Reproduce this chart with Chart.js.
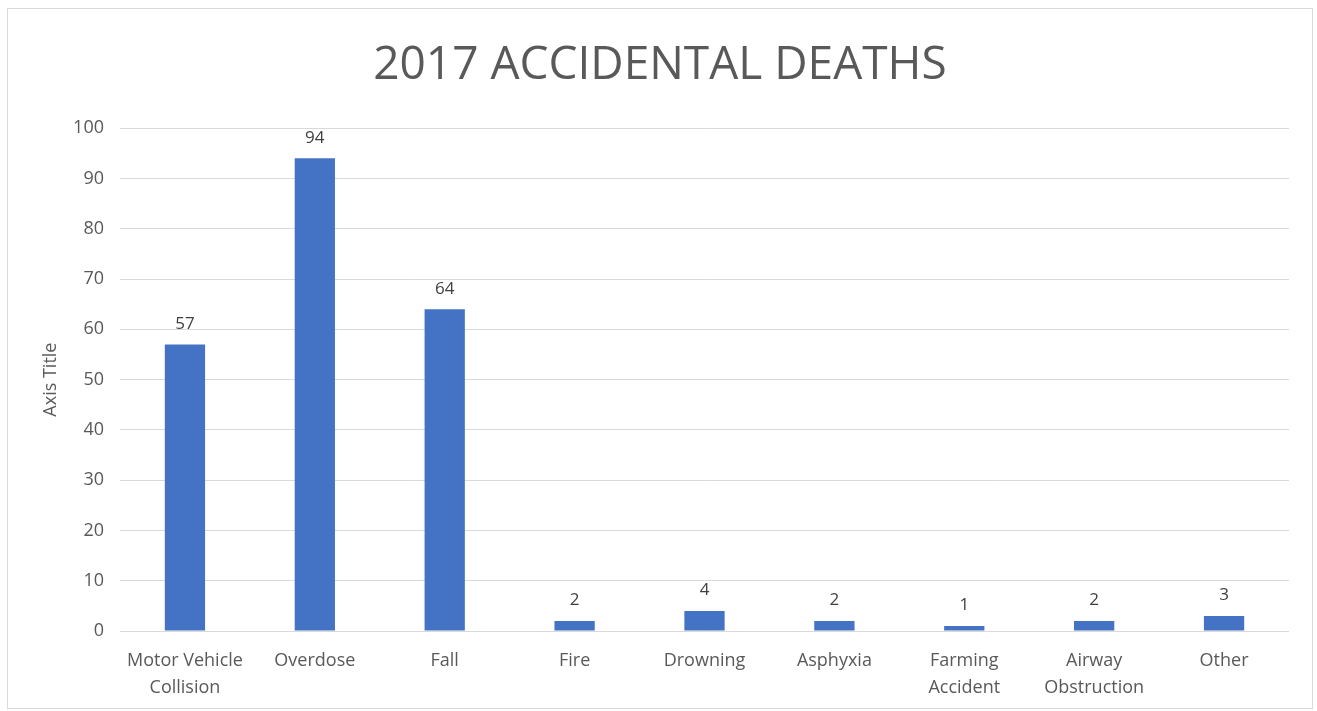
<!DOCTYPE html>
<html>
<head>
<meta charset="utf-8">
<script src="https://cdn.jsdelivr.net/npm/chart.js@4/dist/chart.umd.min.js"></script>
<style>
    body { margin: 0; background: #ffffff; }
    #frame {
        position: absolute;
        left: 7px;
        top: 8px;
        width: 1304px;
        height: 699px;
        border: 1px solid #d9d9d9;
    }
</style>
</head>
<body>
<div id="frame"><canvas id="accidentChart"></canvas></div>
<script>
const categories = [
    ["Motor Vehicle", "Collision"],
    "Overdose",
    "Fall",
    "Fire",
    "Drowning",
    "Asphyxia",
    ["Farming", "Accident"],
    ["Airway", "Obstruction"],
    "Other"
];
const deaths = [57, 94, 64, 2, 4, 2, 1, 2, 3];
const yTicks = [0, 10, 20, 30, 40, 50, 60, 70, 80, 90, 100];

const textColor = "#595959";
const fontFamily = "'Open Sans', sans-serif";

// draws the value above each bar
const valueLabels = {
    id: "valueLabels",
    afterDatasetsDraw(chart) {
        const ctx = chart.ctx;
        const meta = chart.getDatasetMeta(0);
        ctx.save();
        ctx.font = "17px " + fontFamily;
        ctx.fillStyle = "#404040";
        ctx.textAlign = "center";
        ctx.textBaseline = "bottom";
        meta.data.forEach((bar, i) => {
            ctx.fillText(String(deaths[i]), bar.x, bar.y - 12);
        });
        ctx.restore();
    }
};

const accidentChart = new Chart(document.getElementById("accidentChart"), {
    type: "bar",
    data: {
        labels: categories,
        datasets: [{
            data: deaths,
            backgroundColor: "#4472C4",
            borderWidth: 0,
            barPercentage: 0.31,
            categoryPercentage: 1
        }]
    },
    options: {
        responsive: true,
        maintainAspectRatio: false,
        animation: false,
        layout: {
            padding: { left: 23, right: 23, top: 0, bottom: 0 }
        },
        plugins: {
            legend: { display: false },
            tooltip: { enabled: false },
            title: {
                display: true,
                text: "2017 ACCIDENTAL DEATHS",
                color: textColor,
                font: { family: fontFamily, size: 46, weight: "normal" },
                padding: { top: 29, bottom: 35 }
            }
        },
        scales: {
            x: {
                grid: { display: false },
                border: { display: false },
                ticks: {
                    color: textColor,
                    font: { family: fontFamily, size: 18, lineHeight: 1.5 },
                    padding: 8,
                    maxRotation: 0,
                    autoSkip: false
                },
                afterFit(scale) {
                    scale.height = 77;
                }
            },
            y: {
                min: 0,
                max: 100,
                afterBuildTicks(scale) {
                    scale.ticks = yTicks.map(v => ({ value: v }));
                },
                grid: { color: "#d9d9d9", lineWidth: 1, drawTicks: false },
                border: { display: false },
                ticks: {
                    color: textColor,
                    font: { family: fontFamily, size: 18 },
                    padding: 16
                },
                title: {
                    display: true,
                    text: "Axis Title",
                    color: textColor,
                    font: { family: fontFamily, size: 18 },
                    padding: { top: 9, bottom: 0 }
                },
                afterFit(scale) {
                    scale.width = 89;
                }
            }
        }
    },
    plugins: [valueLabels]
});
</script>
</body>
</html>
